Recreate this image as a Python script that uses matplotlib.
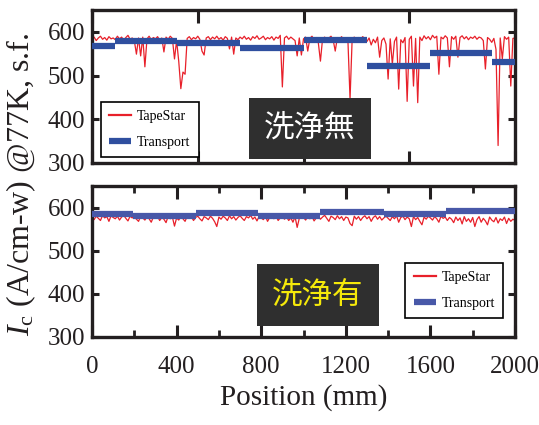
import numpy as np
import matplotlib
matplotlib.use("Agg")
import matplotlib.pyplot as plt

plt.rcParams["font.family"] = ["Liberation Serif"]
plt.rcParams["mathtext.fontset"] = "custom"
plt.rcParams["mathtext.rm"] = "Liberation Serif"
plt.rcParams["mathtext.it"] = "Liberation Serif:italic"

# position grid of the TapeStar scan (mm)
pos = np.arange(0, 2001, 10)

# TapeStar Ic, not cleaned (洗浄無)
top_tapestar = [
    585, 588, 580, 586, 590, 583, 587, 581, 589, 584,
    586, 582, 590, 584, 588, 581, 587, 592, 583, 586,
    580, 549, 586, 545, 588, 520, 584, 590, 582, 587,
    584, 589, 581, 586, 554, 588, 583, 590, 585, 538,
    580, 533, 470, 508, 503, 585, 589, 582, 587, 584,
    590, 583, 556, 547, 586, 589, 582, 588, 584, 590,
    583, 587, 581, 589, 585, 561, 588, 549, 586, 582,
    588, 584, 590, 583, 587, 581, 589, 585, 591, 583,
    586, 590, 582, 587, 584, 589, 581, 588, 585, 592,
    474, 586, 590, 583, 588, 584, 580, 545, 586, 547,
    584, 588, 556, 585, 590, 582, 587, 575, 533, 584,
    588, 580, 586, 590, 582, 556, 587, 583, 589, 581,
    586, 580, 446, 584, 588, 581, 587, 583, 589, 584,
    578, 586, 570, 583, 575, 588, 542, 580, 586, 572,
    492, 584, 526, 578, 588, 469, 582, 575, 587, 441,
    583, 590, 476, 585, 438, 588, 580, 591, 584, 589,
    582, 592, 586, 590, 503, 588, 584, 591, 586, 520,
    589, 583, 590, 542, 587, 591, 584, 589, 582, 588,
    585, 590, 583, 588, 586, 580, 515, 587, 583, 576,
    585, 560, 340, 586, 538, 589, 583, 588, 476, 585,
    586,
]

# TapeStar Ic, cleaned (洗浄有)
bot_tapestar = [
    578, 572, 580, 575, 570, 582, 576, 579, 568, 581,
    577, 574, 580, 571, 578, 582, 575, 569, 580, 576,
    579, 573, 568, 580, 576, 571, 579, 574, 566, 578,
    575, 579, 570, 577, 573, 565, 580, 574, 578, 557,
    576, 571, 579, 574, 568, 580, 575, 578, 570, 577,
    580, 574, 569, 579, 576, 572, 580, 575, 567, 556,
    578, 573, 580, 576, 570, 581, 574, 579, 571, 577,
    581, 575, 570, 579, 576, 582, 573, 578, 569, 580,
    576, 572, 580, 568, 577, 579, 574, 581, 570, 576,
    580, 573, 578, 570, 576, 566, 579, 554, 575, 580,
    577, 571, 579, 574, 580, 569, 576, 581, 573, 578,
    582, 575, 568, 580, 577, 572, 581, 574, 579, 570,
    578, 576, 563, 558, 580, 573, 579, 570, 577, 581,
    574, 579, 568, 577, 581, 573, 579, 571, 576, 580,
    575, 570, 579, 574, 581, 566, 577, 580, 572, 578,
    574, 556, 579, 572, 577, 568, 560, 578, 573, 580,
    576, 571, 579, 574, 566, 580, 575, 578, 570, 577,
    573, 565, 578, 570, 576, 562, 579, 568, 574, 566,
    577, 556, 572, 579, 566, 575, 569, 560, 578, 571,
    567, 577, 564, 574, 570, 578, 563, 575, 568, 573,
    570,
]

# transport Ic per piece (start, end, value)
top_seg_start = [0, 110, 400, 700, 1000, 1300, 1600, 1890]
top_seg_end = [110, 400, 700, 1000, 1300, 1600, 1890, 2000]
top_transport = [567, 578, 574, 563, 581, 521, 551, 530]

bot_seg_start = [0, 195, 490, 785, 1080, 1380, 1675]
bot_seg_end = [195, 490, 785, 1080, 1380, 1675, 2000]
bot_transport = [584, 581, 588, 581, 590, 584, 593]

red = "#e8202a"
ink = "#231f20"

fig = plt.figure(figsize=(5.39, 4.25), dpi=100)
ax1 = fig.add_axes([0.1707, 0.6165, 0.7848, 0.36])
ax2 = fig.add_axes([0.1707, 0.2071, 0.7848, 0.3553])

panels = [
    (ax1, top_tapestar, top_seg_start, top_seg_end, top_transport, "#2f4f9f"),
    (ax2, bot_tapestar, bot_seg_start, bot_seg_end, bot_transport, "#4858a8"),
]
for ax, ts, s0, s1, tr, blue in panels:
    ax.plot(pos, ts, color=red, lw=0.9, label="TapeStar", zorder=2)
    lc = ax.hlines(tr, s0, s1, color=blue, lw=4.5, label="Transport", zorder=3)
    lc.set_capstyle("butt")
    ax.set_xlim(0, 2000)
    ax.set_ylim(300, 650)
    ax.set_yticks([300, 400, 500, 600])
    for sp in ax.spines.values():
        sp.set_linewidth(2.4)
        sp.set_color(ink)
    ax.tick_params(direction="in", top=True, right=True, width=2.2,
                   labelsize=18, colors=ink)
    ax.tick_params(axis="y", length=5, pad=5)
    ax.tick_params(axis="x", length=9, pad=14)

ax1.set_xticks([0, 500, 1000, 1500, 2000])
ax1.tick_params(axis="x", labelbottom=False)
ax2.set_xticks([0, 400, 800, 1200, 1600, 2000])
ax2.set_xticks(np.arange(0, 2001, 200), minor=True)
ax2.tick_params(axis="x", which="minor", direction="in", top=True,
                length=5, width=2.0, colors=ink)

leg_kw = dict(fontsize=10, frameon=True, fancybox=False, edgecolor="black",
              framealpha=1, handlelength=1.6, handletextpad=0.4,
              borderaxespad=0, labelspacing=0.9, borderpad=0.6)
l1 = ax1.legend(loc="lower left", bbox_to_anchor=(0.021, 0.039), **leg_kw)
l2 = ax2.legend(loc="lower right", bbox_to_anchor=(0.972, 0.126), **leg_kw)
for lg in (l1, l2):
    lg.get_frame().set_linewidth(1.2)
    lg.get_lines()[0].set_linewidth(1.6)

cjk = ["Noto Sans CJK JP", "DejaVu Sans"]
ax1.text(0.515, 0.225, "洗浄無", transform=ax1.transAxes, ha="center",
         va="center", color="white", fontsize=22, family=cjk, zorder=5,
         bbox=dict(boxstyle="square,pad=0.5", fc="#2f2f2f", ec="none"))
ax2.text(0.534, 0.278, "洗浄有", transform=ax2.transAxes, ha="center",
         va="center", color="#f5e90a", fontsize=22, family=cjk, zorder=5,
         bbox=dict(boxstyle="square,pad=0.5", fc="#2f2f2f", ec="none"))

ax2.set_xlabel("Position (mm)", fontsize=21, labelpad=4, color=ink)
fig.text(0.04, 0.565, r"$I_{\rm c}$ (A/cm-w) @77K, s.f.", rotation=90,
         ha="center", va="center", fontsize=23, color=ink)

fig.savefig("out.png", dpi=100)
